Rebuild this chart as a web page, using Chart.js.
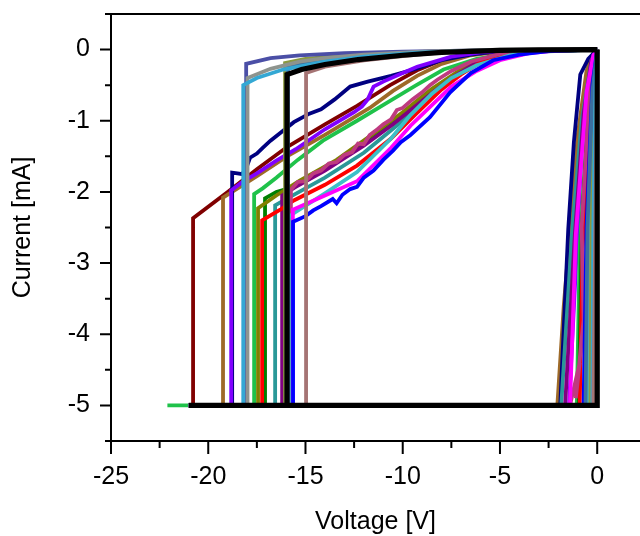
<!DOCTYPE html>
<html>
<head>
<meta charset="utf-8">
<script src="https://cdn.jsdelivr.net/npm/chart.js@4.4.1/dist/chart.umd.min.js"></script>
<style>
  html, body { margin: 0; padding: 0; background: #fff; }
</style>
</head>
<body>
<canvas id="ivChart" width="640" height="536"></canvas>
<script>
// axis ticks
const xMajor = [-25, -20, -15, -10, -5, 0];
const xMinor = [-22.5, -17.5, -12.5, -7.5, -2.5];
const yMajor = [-5, -4, -3, -2, -1, 0];
const yMinor = [-5.5, -4.5, -3.5, -2.5, -1.5, -0.5, 0.5];

// I-V loops, [voltage V, current mA]
const black = [[0,0],[-3,-0.005],[-5,-0.012],[-8,-0.04],[-10,-0.08],[-12.3,-0.14],[-14,-0.21],[-15.2,-0.28],[-15.95,-0.35],[-15.95,-5],[-21,-5],[0,-5],[0,0]];
const mauve = [[0,0],[-5,-0.01],[-8,-0.04],[-10,-0.09],[-12,-0.15],[-14,-0.24],[-14.97,-0.33],[-14.97,-5],[-21,-5],[-0.2,-5],[0,0]];
const lightBlue = [[0,0],[-5,-0.01],[-9,-0.04],[-12,-0.1],[-14,-0.17],[-16.15,-0.28],[-17.5,-0.4],[-18.2,-0.5],[-18.2,-5],[-21,-5],[-0.25,-5],[-0.2,-2.5],[-0.08,-0.4],[0,0]];
const grey = [[0,0],[-5,0],[-9,-0.03],[-12,-0.07],[-14,-0.12],[-15.3,-0.17],[-16.8,-0.27],[-17.98,-0.4],[-17.98,-5],[-21,-5],[-0.2,-5],[0,0]];
const slate = [[0,0],[-6,-0.01],[-10,-0.03],[-13,-0.05],[-15.3,-0.08],[-16.8,-0.12],[-18.05,-0.2],[-18.05,-5],[-21,-5],[-0.15,-5],[0,0]];
const steel = [[0,0],[-6,-0.01],[-10,-0.05],[-13,-0.1],[-15,-0.18],[-15.9,-0.25],[-15.9,-5],[-21,-5],[-0.6,-5],[-0.5,-2.5],[-0.25,-0.6],[0,0]];
const lightOlive = [[0,0],[-6,-0.01],[-10,-0.04],[-13,-0.08],[-15,-0.13],[-16.05,-0.19],[-16.05,-5],[-21,-5],[-0.35,-5],[-0.3,-2.5],[-0.1,-0.5],[0,0]];
const blue = [[0,0],[-2.5,-0.02],[-4,-0.07],[-5.35,-0.15],[-6.5,-0.33],[-7.56,-0.6],[-8.6,-0.95],[-9.6,-1.2],[-10.1,-1.3],[-10.5,-1.42],[-11.0,-1.55],[-11.5,-1.7],[-12.0,-1.8],[-12.35,-1.93],[-12.7,-1.96],[-13.1,-2.04],[-13.4,-2.16],[-13.6,-2.1],[-14.2,-2.2],[-14.6,-2.26],[-15.0,-2.34],[-15.64,-2.42],[-15.64,-5],[-21,-5],[-0.7,-5],[-0.55,-2.5],[-0.25,-0.5],[0,0]];
const magenta = [[0,0],[-2,-0.01],[-3.5,-0.05],[-5,-0.15],[-6.2,-0.3],[-7.5,-0.52],[-8.5,-0.78],[-9.6,-1.07],[-10.6,-1.38],[-12.35,-1.85],[-14,-2.05],[-15.65,-2.25],[-15.65,-5],[-21,-5],[-1.4,-5],[-1.1,-2.6],[-0.55,-0.6],[-0.2,-0.08],[0,0]];
const cyan = [[0,0],[-3,-0.02],[-4.5,-0.08],[-6.2,-0.22],[-7.5,-0.4],[-8.5,-0.62],[-9.6,-0.92],[-10.6,-1.25],[-12.35,-1.72],[-14,-2.02],[-15.6,-2.3],[-15.85,-2.35],[-15.85,-5],[-21,-5],[-0.5,-5],[-0.4,-2.5],[-0.2,-0.5],[0,0]];
const crimson = [[0,0],[-3,-0.01],[-5,-0.06],[-6.5,-0.17],[-7.5,-0.3],[-8.2,-0.42],[-8.6,-0.5],[-9.0,-0.6],[-9.5,-0.7],[-10.0,-0.82],[-10.3,-0.85],[-10.6,-0.98],[-11.0,-1.05],[-11.3,-1.12],[-11.7,-1.2],[-12.0,-1.33],[-12.3,-1.32],[-12.6,-1.44],[-13.0,-1.48],[-13.4,-1.58],[-13.8,-1.6],[-14.2,-1.7],[-14.6,-1.74],[-15.0,-1.85],[-15.4,-1.86],[-15.75,-1.97],[-15.75,-5],[-21,-5],[-1.4,-5],[-0.9,-4.4],[-1.1,-4.9],[-0.7,-3.8],[-0.8,-2.5],[-0.4,-0.6],[0,0]];
const red = [[0,0],[-3.5,-0.02],[-5,-0.08],[-6,-0.18],[-7,-0.35],[-8,-0.56],[-9.3,-0.9],[-10.6,-1.25],[-12.35,-1.63],[-14,-1.9],[-15.6,-2.12],[-16.3,-2.25],[-17.23,-2.4],[-17.23,-5],[-21,-5],[-0.9,-5],[-0.75,-2.8],[-0.4,-0.8],[-0.1,-0.1],[0,0]];
const purple = [[0,0],[-4,-0.03],[-6,-0.15],[-7.5,-0.4],[-9,-0.72],[-10.5,-1.05],[-12,-1.35],[-14,-1.7],[-15.5,-1.93],[-16.2,-2.05],[-16.2,-5],[-21,-5],[-1.65,-5],[-1.15,-2.6],[-0.7,-0.9],[-0.3,-0.15],[0,0]];
const teal = [[0,0],[-4,-0.04],[-5.5,-0.12],[-7,-0.32],[-8.5,-0.62],[-10,-1.0],[-12,-1.45],[-14,-1.8],[-16,-2.1],[-16.56,-2.19],[-16.56,-5],[-21,-5],[-1.85,-5],[-1.3,-2.6],[-0.8,-1.0],[-0.3,-0.15],[0,0]];
const olive = [[0,0],[-4,-0.03],[-5.5,-0.1],[-7,-0.28],[-8.5,-0.55],[-10,-0.88],[-11.7,-1.22],[-13.4,-1.55],[-15.3,-1.84],[-16.5,-2.05],[-17.44,-2.23],[-17.44,-5],[-21,-5],[-0.3,-5],[-0.25,-2.5],[-0.1,-0.4],[0,0]];
const darkGreen = [[0,0],[-4,-0.03],[-5.5,-0.1],[-7,-0.3],[-8.5,-0.58],[-10,-0.92],[-11.7,-1.25],[-13.5,-1.6],[-15.5,-1.92],[-16.5,-2.0],[-17.08,-2.09],[-17.08,-5],[-21,-5],[-0.95,-5],[-0.8,-2.6],[-0.45,-0.8],[-0.15,-0.12],[0,0]];
const green = [[0,0],[-3,-0.02],[-4.5,-0.06],[-6.2,-0.13],[-7.9,-0.28],[-9.3,-0.5],[-10.65,-0.72],[-12.35,-1.0],[-14.1,-1.28],[-15.4,-1.55],[-16.5,-1.8],[-17.2,-1.95],[-17.64,-2.03],[-17.64,-5],[-22.1,-5],[-1.05,-5],[-0.9,-2.8],[-0.5,-1.0],[-0.2,-0.2],[0,0]];
const violet = [[0,0],[-4,-0.01],[-6,-0.04],[-7.5,-0.1],[-9.26,-0.24],[-10,-0.33],[-11,-0.45],[-11.5,-0.52],[-11.8,-0.7],[-12.1,-0.8],[-12.5,-0.88],[-14,-1.12],[-15.5,-1.4],[-16.5,-1.56],[-17.5,-1.74],[-18.2,-1.85],[-18.82,-1.98],[-18.82,-5],[-21,-5],[-1.45,-5],[-1.03,-2.7],[-0.75,-1.14],[-0.35,-0.25],[0,0]];
const navy = [[0,0],[-5,-0.02],[-6.5,-0.07],[-8,-0.15],[-9.3,-0.27],[-10.6,-0.37],[-11.8,-0.45],[-12.7,-0.52],[-13.5,-0.7],[-14.2,-0.84],[-14.8,-0.9],[-15.6,-1.02],[-16.2,-1.15],[-16.8,-1.28],[-17.2,-1.38],[-17.5,-1.46],[-17.85,-1.52],[-18.0,-1.63],[-18.25,-1.75],[-18.5,-1.74],[-18.77,-1.73],[-18.77,-5],[-21,-5],[-1.9,-5],[-1.49,-2.53],[-1.2,-1.3],[-0.87,-0.35],[-0.46,-0.13],[0,0]];
const brown = [[0,0],[-5,-0.03],[-6.5,-0.08],[-8,-0.2],[-9.26,-0.37],[-10.5,-0.58],[-11.7,-0.82],[-14,-1.2],[-15.95,-1.5],[-17.5,-1.78],[-19.24,-2.08],[-19.24,-5],[-21,-5],[-2.05,-5],[-1.72,-3.6],[-1.39,-2.53],[-1.0,-1.2],[-0.55,-0.3],[-0.2,-0.05],[0,0]];
const wine = [[0,0],[-5,-0.02],[-6.5,-0.06],[-8,-0.15],[-9.26,-0.29],[-10.65,-0.5],[-12.35,-0.79],[-14,-1.05],[-15.95,-1.37],[-17.5,-1.68],[-19,-2.0],[-20.78,-2.37],[-20.78,-5],[-21,-5],[-0.35,-5],[-0.25,-2.5],[-0.1,-0.5],[0,0]];

// first entry is drawn on top
const series = [
  [black, '#000000', 5.2],
  [mauve, '#a57474', 3.8],
  [lightBlue, '#34a8d4', 3.8],
  [grey, '#8e948e', 3.8],
  [slate, '#4b4fa6', 3.8],
  [steel, '#3a6fa0', 3.8],
  [lightOlive, '#8a9a40', 3.8],
  [blue, '#0000ff', 3.8],
  [magenta, '#ff00ff', 3.8],
  [cyan, '#3cc0c8', 3.8],
  [crimson, '#bf3a80', 3.8],
  [red, '#ff0000', 3.8],
  [purple, '#800080', 3.8],
  [teal, '#2a9898', 3.8],
  [olive, '#808000', 3.8],
  [darkGreen, '#008000', 3.8],
  [green, '#1fc24a', 3.8],
  [violet, '#8000ff', 3.8],
  [navy, '#000080', 3.8],
  [brown, '#9e6a28', 3.8],
  [wine, '#800000', 3.8]
];

const fontFamily = "'Liberation Sans', Arial, sans-serif";

// minor + major tick marks and the top frame line
const tickMarks = {
  id: 'tickMarks',
  afterDraw(chart) {
    const { ctx, chartArea: a, scales: { x, y } } = chart;
    ctx.save();
    ctx.strokeStyle = '#000';
    ctx.lineWidth = 2;
    ctx.beginPath();
    xMajor.forEach(v => { const p = x.getPixelForValue(v); ctx.moveTo(p, a.bottom); ctx.lineTo(p, a.bottom + 13); });
    xMinor.forEach(v => { const p = x.getPixelForValue(v); ctx.moveTo(p, a.bottom); ctx.lineTo(p, a.bottom + 7); });
    yMajor.forEach(v => { const p = y.getPixelForValue(v); ctx.moveTo(a.left, p); ctx.lineTo(a.left - 11, p); });
    yMinor.forEach(v => { const p = y.getPixelForValue(v); ctx.moveTo(a.left, p); ctx.lineTo(a.left - 6, p); });
    ctx.moveTo(a.left - 1, a.top);
    ctx.lineTo(a.right, a.top);
    ctx.stroke();
    ctx.restore();
  }
};

function noPad(s) {
  s.paddingTop = 0; s.paddingBottom = 0; s.paddingLeft = 0; s.paddingRight = 0;
}

new Chart(document.getElementById('ivChart').getContext('2d'), {
  type: 'scatter',
  data: {
    datasets: series.map(([pts, color, w]) => ({
      data: pts,
      showLine: true,
      borderColor: color,
      backgroundColor: color,
      borderWidth: w,
      pointRadius: 0,
      tension: 0
    }))
  },
  options: {
    responsive: false,
    animation: false,
    layout: { padding: { top: 14, left: 0, right: 0, bottom: 0 } },
    plugins: { legend: { display: false }, tooltip: { enabled: false } },
    scales: {
      x: {
        type: 'linear',
        min: -25,
        max: 2.2,
        afterBuildTicks: s => { s.ticks = xMajor.map(v => ({ value: v })); },
        afterFit: s => { s.height = 95; noPad(s); },
        ticks: { color: '#000', font: { family: fontFamily, size: 25 }, padding: 9, maxRotation: 0, autoSkip: false, callback: v => String(v) },
        grid: { drawOnChartArea: false, drawTicks: true, tickLength: 12, tickColor: 'rgba(0,0,0,0)' },
        border: { display: true, color: '#000', width: 2 },
        title: { display: true, text: 'Voltage [V]', color: '#000', font: { family: fontFamily, size: 25, lineHeight: 0.8 }, padding: { top: 0, bottom: 4 } }
      },
      y: {
        type: 'linear',
        min: -5.5,
        max: 0.5,
        afterBuildTicks: s => { s.ticks = yMajor.map(v => ({ value: v })); },
        afterFit: s => { s.width = 111; noPad(s); },
        ticks: { color: '#000', font: { family: fontFamily, size: 25 }, padding: 10, autoSkip: false, callback: v => String(v) },
        grid: { drawOnChartArea: false, drawTicks: true, tickLength: 11, tickColor: 'rgba(0,0,0,0)' },
        border: { display: true, color: '#000', width: 2 },
        title: { display: true, text: 'Current [mA]', color: '#000', font: { family: fontFamily, size: 25 }, padding: { top: 8, bottom: 0 } }
      }
    }
  },
  plugins: [tickMarks]
});
</script>
</body>
</html>
